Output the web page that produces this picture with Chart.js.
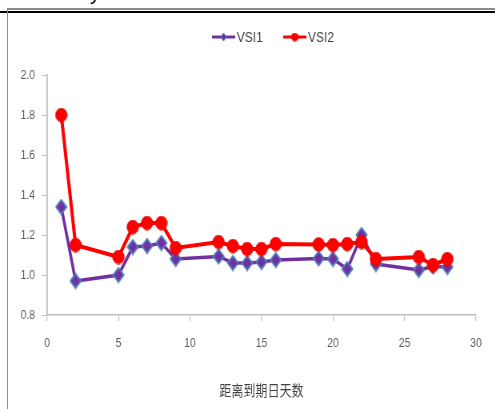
<!DOCTYPE html>
<html>
<head>
<meta charset="utf-8">
<script src="https://cdn.jsdelivr.net/npm/chart.js@4/dist/chart.umd.min.js"></script>
<style>
  html, body { margin: 0; padding: 0; background: #fff; }
  #wrap { position: relative; width: 495px; height: 409px; overflow: hidden; background: #fff; }
  .cut { position: absolute; left: 90px; top: -17px; font: 20px 'Liberation Sans', sans-serif; line-height: 20px; color: #000; }
  .frame-top { position: absolute; left: 7px; top: 8px; width: 488px; height: 2px; background: #8c8c8c; }
  .rule { position: absolute; left: 0; top: 11px; width: 495px; height: 2px; background: #000; }
  .frame-left { position: absolute; left: 7px; top: 8px; width: 1px; height: 401px; background: #8c8c8c; }
  /* the plot is drawn on a wider canvas and narrowed horizontally */
  #c { position: absolute; left: 0; top: 0; width: 619px; height: 409px; transform: scaleX(0.8); transform-origin: 0 0; }
</style>
</head>
<body>
<div id="wrap">
  <span class="cut">y</span>
  <div class="frame-top"></div>
  <div class="rule"></div>
  <div class="frame-left"></div>
  <canvas id="c" width="619" height="409"></canvas>
</div>
<script>
// Days to expiry and the two volatility-ratio series
const days = [1, 2, 5, 6, 7, 8, 9, 12, 13, 14, 15, 16, 19, 20, 21, 22, 23, 26, 27, 28];
const vsi1 = [1.34, 0.97, 1.00, 1.14, 1.145, 1.16, 1.08, 1.093, 1.06, 1.06, 1.065, 1.075, 1.083, 1.08, 1.03, 1.20, 1.055, 1.025, 1.042, 1.04];
const vsi2 = [1.80, 1.15, 1.09, 1.24, 1.26, 1.26, 1.135, 1.165, 1.145, 1.13, 1.13, 1.155, 1.153, 1.15, 1.155, 1.165, 1.08, 1.09, 1.05, 1.08];
const seriesNames = ['VSI1', 'VSI2'];
const xTicks = [0, 5, 10, 15, 20, 25, 30];
const yTicks = [0.8, 1.0, 1.2, 1.4, 1.6, 1.8, 2.0];
const xTitle = '距离到期日天数';

const SANS = "'Liberation Sans', Arial, sans-serif";
const PURPLE = '#7030A0';
const RED = '#FF0000';
const AXIS = '#bfbfbf';
const LABEL = '#595959';

// Marker sprites: diamond (purple with blue rim) and round dot (red)
function diamond(w, h, fill, rim, lw) {
  const c = document.createElement('canvas');
  c.width = w; c.height = h;
  const g = c.getContext('2d');
  const p = lw / 2 + 0.5;
  g.beginPath();
  g.moveTo(w / 2, p);
  g.lineTo(w - p, h / 2);
  g.lineTo(w / 2, h - p);
  g.lineTo(p, h / 2);
  g.closePath();
  g.fillStyle = fill; g.fill();
  g.lineWidth = lw; g.strokeStyle = rim; g.stroke();
  return c;
}
function dot(w, h, fill, rim, lw) {
  const c = document.createElement('canvas');
  c.width = w; c.height = h;
  const g = c.getContext('2d');
  g.beginPath();
  g.ellipse(w / 2, h / 2, w / 2 - lw / 2 - 0.3, h / 2 - lw / 2 - 0.3, 0, 0, Math.PI * 2);
  g.fillStyle = fill; g.fill();
  g.lineWidth = lw; g.strokeStyle = rim; g.stroke();
  return c;
}

const markers = [diamond(16, 17, PURPLE, '#4F81BD', 1.8), dot(16, 15, RED, '#e00000', 1)];
const keyMarkers = [diamond(9, 10, PURPLE, '#4F81BD', 1), dot(10, 9, RED, '#e00000', 1)];

const toPoints = (ys) => days.map((d, i) => ({ x: d, y: ys[i] }));

// Series key drawn above the plot
const seriesKey = {
  id: 'seriesKey',
  afterDraw(chart) {
    const ctx = chart.ctx;
    const slots = [{ x0: 265, x1: 294, tx: 296 }, { x0: 354, x1: 383, tx: 385 }];
    const y = 37;
    ctx.save();
    chart.data.datasets.forEach((ds, i) => {
      const s = slots[i];
      ctx.beginPath();
      ctx.moveTo(s.x0, y);
      ctx.lineTo(s.x1, y);
      ctx.lineWidth = 3;
      ctx.strokeStyle = ds.borderColor;
      ctx.stroke();
      const m = keyMarkers[i];
      ctx.drawImage(m, (s.x0 + s.x1) / 2 - m.width / 2, y - m.height / 2);
      ctx.fillStyle = '#404040';
      ctx.font = '15px ' + SANS;
      ctx.textBaseline = 'middle';
      ctx.textAlign = 'left';
      ctx.fillText(ds.label, s.tx, y + 0.5);
    });
    ctx.restore();
  }
};

new Chart(document.getElementById('c'), {
  type: 'line',
  data: {
    datasets: [
      {
        label: seriesNames[0],
        data: toPoints(vsi1),
        borderColor: PURPLE,
        backgroundColor: PURPLE,
        borderWidth: 3.5,
        pointStyle: markers[0],
        pointRadius: 7,
        tension: 0,
        order: 1
      },
      {
        label: seriesNames[1],
        data: toPoints(vsi2),
        borderColor: RED,
        backgroundColor: RED,
        borderWidth: 4,
        pointStyle: markers[1],
        pointRadius: 7,
        tension: 0,
        order: 0
      }
    ]
  },
  options: {
    responsive: false,
    animation: false,
    devicePixelRatio: 1,
    layout: { padding: { top: 75, right: 24, bottom: 0, left: 0 } },
    plugins: { legend: { display: false }, tooltip: { enabled: false } },
    scales: {
      x: {
        type: 'linear',
        min: 0,
        max: 30,
        afterBuildTicks: (s) => { s.ticks = xTicks.map(v => ({ value: v })); },
        afterFit: (s) => { s.height = 94; },
        grid: { drawOnChartArea: false, color: AXIS, tickLength: 6, lineWidth: 1.2 },
        border: { color: AXIS, width: 1.5 },
        ticks: { color: LABEL, font: { family: SANS, size: 13 }, padding: 15, maxRotation: 0, autoSkip: false },
        title: {
          display: true,
          text: xTitle,
          color: '#404040',
          font: { family: "'Noto Sans CJK SC', sans-serif", size: 15 },
          padding: { top: 0, bottom: 10 }
        }
      },
      y: {
        type: 'linear',
        min: 0.8,
        max: 2.0,
        afterBuildTicks: (s) => { s.ticks = yTicks.map(v => ({ value: v })); },
        afterFit: (s) => { s.width = 58.75; },
        grid: { drawOnChartArea: false, color: AXIS, tickLength: 6, lineWidth: 1 },
        border: { color: AXIS, width: 1.8 },
        ticks: {
          color: LABEL,
          font: { family: SANS, size: 13 },
          padding: 9,
          autoSkip: false,
          callback: (v) => Number(v).toFixed(1)
        }
      }
    }
  },
  plugins: [seriesKey]
});
</script>
</body>
</html>
